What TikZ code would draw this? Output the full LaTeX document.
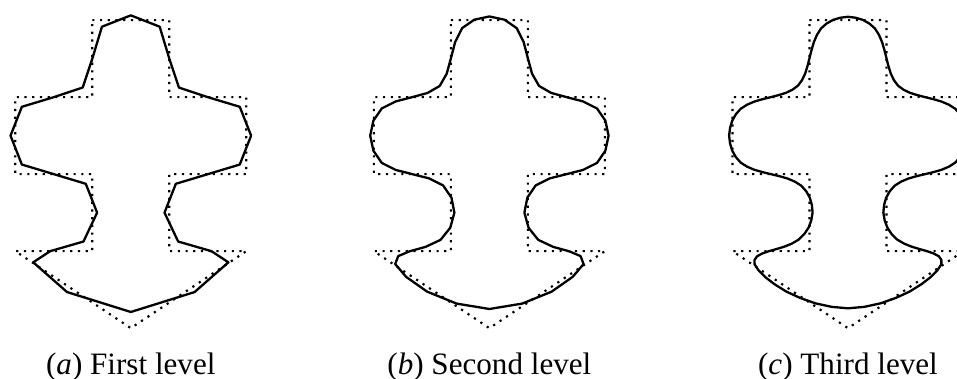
\documentclass[tikz,border=0pt]{standalone}
\usepackage{fontspec}
\setmainfont{Liberation Serif}
\usepackage{tikz}

% weights of the subdivision rule
\def\wa{0.125}
\def\wb{-0.02}
\def\wc{0.79}
\def\we{0.03125}

\newcommand{\resetpoly}{%
  \gdef\npts{15}%
  \def\ctrlpts{-0.5/3, 0.5/3, 0.5/2, 1.5/2, 1.5/1, 0.5/1, 0.5/0, 1.5/0, 0/-1,
    -1.5/0, -0.5/0, -0.5/1, -1.5/1, -1.5/2, -0.5/2}%
  \foreach \px/\py [count=\k from 0] in \ctrlpts {%
    \expandafter\xdef\csname cx\k\endcsname{\px}%
    \expandafter\xdef\csname cy\k\endcsname{\py}}}

\newcommand{\getpt}[1]{%
  \pgfmathtruncatemacro\k{mod(#1+\npts,\npts)}%
  \edef\tx{\csname cx\k\endcsname}\edef\ty{\csname cy\k\endcsname}}

\newcommand{\substep}{%
  \pgfmathtruncatemacro\nlast{\npts-1}%
  \foreach \i in {0,...,\nlast}{%
    \getpt{\i-2}\let\xa\tx\let\ya\ty
    \getpt{\i-1}\let\xb\tx\let\yb\ty
    \getpt{\i}\let\xc\tx\let\yc\ty
    \getpt{\i+1}\let\xd\tx\let\yd\ty
    \getpt{\i+2}\let\xe\tx\let\ye\ty
    \pgfmathtruncatemacro\j{2*\i}%
    \pgfmathsetmacro\vx{\wb*((\xa)+(\xe))+\wa*((\xb)+(\xd))+\wc*(\xc)}%
    \pgfmathsetmacro\vy{\wb*((\ya)+(\ye))+\wa*((\yb)+(\yd))+\wc*(\yc)}%
    \expandafter\xdef\csname nx\j\endcsname{\vx}%
    \expandafter\xdef\csname ny\j\endcsname{\vy}%
    \pgfmathtruncatemacro\j{2*\i+1}%
    \pgfmathsetmacro\vx{(0.5+\we)*((\xc)+(\xd))-\we*((\xb)+(\xe))}%
    \pgfmathsetmacro\vy{(0.5+\we)*((\yc)+(\yd))-\we*((\yb)+(\ye))}%
    \expandafter\xdef\csname nx\j\endcsname{\vx}%
    \expandafter\xdef\csname ny\j\endcsname{\vy}}%
  \pgfmathtruncatemacro\npts{2*\npts}\global\let\npts\npts
  \pgfmathtruncatemacro\nlast{\npts-1}%
  \foreach \j in {0,...,\nlast}{%
    \expandafter\xdef\csname cx\j\endcsname{\csname nx\j\endcsname}%
    \expandafter\xdef\csname cy\j\endcsname{\csname ny\j\endcsname}}}

\newcommand{\drawpoly}[1]{%
  \pgfmathtruncatemacro\nlast{\npts-1}%
  \draw[#1] (\csname cx0\endcsname,\csname cy0\endcsname)
    \foreach \j in {1,...,\nlast}{ -- (\csname cx\j\endcsname,\csname cy\j\endcsname)}
    -- cycle;}

\begin{document}
\begin{tikzpicture}[
  ctrl/.style={line width=0.8pt, dash pattern=on 0.8pt off 2.05pt},
  curve/.style={line width=0.85pt, line join=round},
  captext/.style={anchor=base, inner sep=0pt, font=\fontsize{11.5}{14}\selectfont}
]
\useasboundingbox (-1.699,-1.66) rectangle (10.73,3.262);
\clip (-1.699,-1.66) rectangle (10.73,3.262);
\foreach \lvl/\lbl/\name [count=\p from 0] in {1/a/First, 2/b/Second, 3/c/Third}{
  \begin{scope}[xshift=\p*4.657cm]
    \resetpoly
    \drawpoly{ctrl}
    \foreach \s in {1,...,\lvl}{\substep}
    \drawpoly{curve}
    \node[captext] (cap\lbl) at (0,-1.608) {(\textit{\lbl}) \name\ level};
  \end{scope}
}
\end{tikzpicture}
\end{document}
